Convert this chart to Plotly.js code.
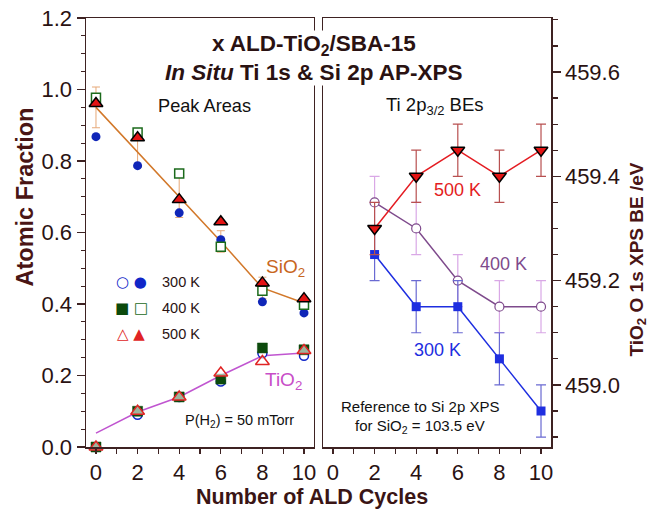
<!DOCTYPE html>
<html>
<head>
<meta charset="utf-8">
<script src="https://cdn.plot.ly/plotly-3.0.1.min.js"></script>
<style>html,body{margin:0;padding:0;background:#fff}#chart{width:651px;height:512px}</style>
</head>
<body>
<div id="chart"></div>
<script>
// ---- Data ----
var cycles = [0, 2, 4, 6, 8, 10];
var cyclesBE = [2, 4, 6, 8, 10];

// Left panel: atomic fractions (peak areas)
var sio2_300K = [0.868, 0.787, 0.655, 0.580, 0.406, 0.375];
var sio2_400K = [0.977, 0.880, 0.765, 0.560, 0.437, 0.398];
var sio2_500K = [0.961, 0.865, 0.692, 0.630, 0.459, 0.415];
var sio2_avg  = [0.950, 0.825, 0.700, 0.575, 0.445, 0.403];
var sio2_err  = [0.057, 0.042, 0.058, 0.030, 0.030, 0.012];

var tio2_300K = [0.000, 0.090, 0.140, 0.183, 0.262, 0.255];
var tio2_400K = [0.000, 0.100, 0.140, 0.190, 0.277, 0.272];
var tio2_500K = [0.000, 0.100, 0.140, 0.207, 0.239, 0.270];
var tio2_avg  = [0.039, 0.098, 0.140, 0.200, 0.255, 0.263];

// Right panel: Ti 2p3/2 binding energies (eV)
var be_500K = [459.30, 459.40, 459.45, 459.40, 459.45];
var be_400K = [459.35, 459.30, 459.20, 459.15, 459.15];
var be_300K = [459.25, 459.15, 459.15, 459.05, 458.95];
var be_err  = [0.05, 0.05, 0.05, 0.05, 0.05];

var xTickVals = [0, 2, 4, 6, 8, 10];

// ---- Styles ----
var FONT = 'Liberation Sans, Arial, Helvetica, sans-serif';
var AX = '#3e2222';
var TXT = '#2a1212';

var traces = [
  {x: cycles, y: sio2_avg, mode: 'lines', line: {color: '#d2782a', width: 1.5},
   error_y: {type: 'data', array: sio2_err, visible: true, color: '#e6a878', thickness: 1, width: 4},
   xaxis: 'x', yaxis: 'y', hoverinfo: 'skip'},
  {x: cycles, y: tio2_avg, mode: 'lines', line: {color: '#c055d0', width: 1.5},
   xaxis: 'x', yaxis: 'y', hoverinfo: 'skip'},
  {x: cycles, y: sio2_300K, mode: 'markers', marker: {symbol: 'circle', size: 9, color: '#1026b8', line: {width: 0}}, xaxis: 'x', yaxis: 'y', cliponaxis: false},
  {x: cycles, y: sio2_400K, mode: 'markers', marker: {symbol: 'square', size: 9, color: '#ffffff', line: {width: 1.5, color: '#1b6a1b'}}, xaxis: 'x', yaxis: 'y', cliponaxis: false},
  {x: cycles, y: sio2_500K, mode: 'markers', marker: {symbol: 'triangle-up', size: 12, color: '#e41414', line: {width: 1.5, color: '#000000'}}, xaxis: 'x', yaxis: 'y', cliponaxis: false},
  {x: cycles, y: tio2_300K, mode: 'markers', marker: {symbol: 'circle', size: 9, color: '#ffffff', line: {width: 1.5, color: '#1026c8'}}, xaxis: 'x', yaxis: 'y', cliponaxis: false},
  {x: cycles, y: tio2_400K, mode: 'markers', marker: {symbol: 'square', size: 10, color: '#0c4a0c', line: {width: 0.5, color: '#0c4a0c'}}, xaxis: 'x', yaxis: 'y', cliponaxis: false},
  {x: cycles, y: tio2_500K, mode: 'markers', marker: {symbol: 'triangle-up', size: 12, color: 'rgba(255,255,255,0.6)', line: {width: 1.5, color: '#e02424'}}, xaxis: 'x', yaxis: 'y', cliponaxis: false},
  {x: cyclesBE, y: be_400K, mode: 'lines+markers', line: {color: '#7e4a8c', width: 1.5},
   marker: {symbol: 'circle', size: 9, color: '#ffffff', line: {width: 1.2, color: '#7e4a8c'}},
   error_y: {type: 'data', array: be_err, visible: true, color: '#d9a8e6', thickness: 1.2, width: 5},
   xaxis: 'x2', yaxis: 'y2', cliponaxis: false},
  {x: cyclesBE, y: be_300K, mode: 'lines+markers', line: {color: '#1e2ee0', width: 1.5},
   marker: {symbol: 'square', size: 9, color: '#1e2ee0', line: {width: 0}},
   error_y: {type: 'data', array: be_err, visible: true, color: '#6a6ad2', thickness: 1.2, width: 5},
   xaxis: 'x2', yaxis: 'y2', cliponaxis: false},
  {x: cyclesBE, y: be_500K, mode: 'lines+markers', line: {color: '#e41c22', width: 1.5},
   marker: {symbol: 'triangle-down', size: 12, color: '#e41414', line: {width: 1.5, color: '#000000'}},
   error_y: {type: 'data', array: be_err, visible: true, color: '#b85050', thickness: 1.2, width: 5},
   xaxis: 'x2', yaxis: 'y2', cliponaxis: false}
];

var xCommon = {
  range: [-0.48, 10.48], tickvals: xTickVals, ticks: 'outside', ticklen: 5, tickwidth: 1.2, tickcolor: AX,
  minor: {dtick: 1, tick0: 0, ticks: 'outside', ticklen: 5, tickwidth: 1.2, tickcolor: AX},
  showline: true, mirror: true, linecolor: AX, linewidth: 1.5,
  showgrid: false, zeroline: false, tickfont: {family: FONT, size: 22, color: TXT}
};

var layout = {
  width: 651, height: 512,
  margin: {l: 86, r: 100, t: 18, b: 65},
  paper_bgcolor: '#ffffff', plot_bgcolor: '#ffffff',
  showlegend: false,
  font: {family: FONT, color: TXT},
  xaxis: Object.assign({}, xCommon, {domain: [0, 0.4903], anchor: 'y'}),
  xaxis2: Object.assign({}, xCommon, {domain: [0.5097, 1], anchor: 'y2'}),
  yaxis: {
    range: [0, 1.2], dtick: 0.2, tick0: 0, tickformat: '.1f', anchor: 'x',
    ticks: 'outside', ticklen: 8, tickwidth: 1.2, tickcolor: AX,
    minor: {dtick: 0.05, ticks: 'outside', ticklen: 4, tickwidth: 1.2, tickcolor: AX},
    showline: true, mirror: true, linecolor: AX, linewidth: 1.5,
    showgrid: false, zeroline: false, tickfont: {family: FONT, size: 22, color: TXT}
  },
  yaxis2: {
    range: [458.881, 459.7035], dtick: 0.2, tick0: 459.0, tickformat: '.1f', anchor: 'x2', side: 'right',
    ticks: 'outside', ticklen: 8, tickwidth: 1.2, tickcolor: AX,
    minor: {dtick: 0.05, tick0: 459.0, ticks: 'outside', ticklen: 5, tickwidth: 1.2, tickcolor: AX},
    showline: true, mirror: true, linecolor: AX, linewidth: 1.5,
    showgrid: false, zeroline: false, tickfont: {family: FONT, size: 22, color: TXT}
  },
  annotations: [
    {xref: 'paper', yref: 'paper', x: 0.5, y: 1,
     text: '<b>x ALD-TiO<sub>2</sub>/SBA-15</b><br><b><i>In Situ</i> Ti 1s &amp; Si 2p AP-XPS</b>', showarrow: false, xanchor: 'center', yanchor: 'middle',
     font: {family: FONT, size: 22.5, color: TXT}, bgcolor: '#ffffff', borderpad: 0},
    {xref: 'paper', yref: 'paper', x: 0.5, y: 0, text: '<b>Number of ALD Cycles</b>', showarrow: false,
     xanchor: 'center', yanchor: 'middle', font: {family: FONT, size: 21.5, color: '#3a1515'}},
    {xref: 'paper', yref: 'paper', x: 0, y: 0.5, text: '<b>Atomic Fraction</b>', showarrow: false, textangle: -90,
     xanchor: 'center', yanchor: 'middle', font: {family: FONT, size: 23.5, color: '#4a1515'}},
    {xref: 'paper', yref: 'paper', x: 1, y: 0.5, text: '<b>TiO<sub>2</sub> O 1s XPS BE /eV</b>', showarrow: false, textangle: -90,
     xanchor: 'center', yanchor: 'middle', font: {family: FONT, size: 19, color: '#4a1515'}},
    {xref: 'x', yref: 'y', x: 5.24, y: 0.955, text: 'Peak Areas', showarrow: false, font: {family: FONT, size: 18.2, color: '#111'}},
    {xref: 'x', yref: 'y', x: 9.1, y: 0.50, text: 'SiO<sub>2</sub>', showarrow: false, font: {family: FONT, size: 19, color: '#c8661e'}},
    {xref: 'x', yref: 'y', x: 9.0, y: 0.185, text: 'TiO<sub>2</sub>', showarrow: false, font: {family: FONT, size: 19, color: '#c84ec8'}},
    {xref: 'x', yref: 'y', x: 6.9, y: 0.073, text: 'P(H<sub>2</sub>) = 50 mTorr', showarrow: false, font: {family: FONT, size: 14.5, color: '#111'}},
    {xref: 'x', yref: 'y', x: 1.7, y: 0.462, text: '<span style="color:#1026c8">○ ●</span>', showarrow: false, font: {family: 'DejaVu Sans, sans-serif', size: 15}},
    {xref: 'x', yref: 'y', x: 1.7, y: 0.389, text: '<span style="color:#0c4a0c">■ </span><span style="color:#1b6a1b">□</span>', showarrow: false, font: {family: 'DejaVu Sans, sans-serif', size: 15}},
    {xref: 'x', yref: 'y', x: 1.7, y: 0.317, text: '<span style="color:#e02424">△ ▲</span>', showarrow: false, font: {family: 'DejaVu Sans, sans-serif', size: 15}},
    {xref: 'x', yref: 'y', x: 3.1, y: 0.462, text: '300 K', xanchor: 'left', showarrow: false, font: {family: FONT, size: 14.5, color: '#2a1212'}},
    {xref: 'x', yref: 'y', x: 3.1, y: 0.389, text: '400 K', xanchor: 'left', showarrow: false, font: {family: FONT, size: 14.5, color: '#2a1212'}},
    {xref: 'x', yref: 'y', x: 3.1, y: 0.317, text: '500 K', xanchor: 'left', showarrow: false, font: {family: FONT, size: 14.5, color: '#2a1212'}},
    {xref: 'x2', yref: 'y2', x: 4.9, y: 459.535, text: 'Ti 2p<sub>3/2</sub> BEs', showarrow: false, font: {family: FONT, size: 18.5, color: '#111'}},
    {xref: 'x2', yref: 'y2', x: 6.0, y: 459.374, text: '500 K', showarrow: false, font: {family: FONT, size: 18, color: '#e41c22'}},
    {xref: 'x2', yref: 'y2', x: 8.2, y: 459.232, text: '400 K', showarrow: false, font: {family: FONT, size: 18, color: '#7e4a8c'}},
    {xref: 'x2', yref: 'y2', x: 5.0, y: 459.067, text: '300 K', showarrow: false, font: {family: FONT, size: 18, color: '#1e2ee0'}},
    {xref: 'x2', yref: 'y2', x: 4.2, y: 458.958, text: 'Reference to Si 2p XPS', showarrow: false, font: {family: FONT, size: 15, color: '#111'}},
    {xref: 'x2', yref: 'y2', x: 4.2, y: 458.921, text: 'for SiO<sub>2</sub> = 103.5 eV', showarrow: false, font: {family: FONT, size: 15, color: '#111'}}
  ]
};

// pixel offsets for paper-positioned titles
layout.annotations[0].yshift = -40;
layout.annotations[0].xshift = -5;
layout.annotations[1].yshift = -50;
layout.annotations[1].xshift = -7;
layout.annotations[2].xshift = -62;
layout.annotations[2].yshift = 35;
layout.annotations[3].xshift = 86;
layout.annotations[3].yshift = -27;

Plotly.newPlot('chart', traces, layout, {staticPlot: true, displayModeBar: false});
</script>
</body>
</html>
